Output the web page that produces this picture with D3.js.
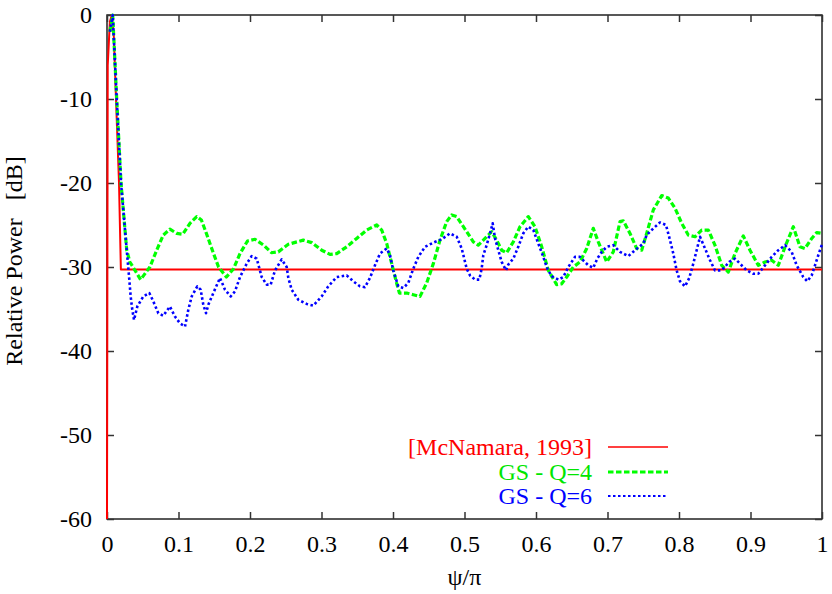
<!DOCTYPE html>
<html>
<head>
<meta charset="utf-8">
<script src="https://cdn.jsdelivr.net/npm/d3@7"></script>
<style>
  body { margin: 0; background: #fff; }
  text { font-family: "Liberation Serif", "DejaVu Serif", serif; }
</style>
</head>
<body>
<svg id="chart" width="832" height="594"></svg>
<script>
// McNamara reference pattern
var mcnX = [0, 0.001, 0.004, 0.0068, 0.0095, 0.0126, 0.0168, 0.0194, 1];
var mcnY = [-60, -6, -0.8, 0, -2.5, -10, -20, -30.3, -30.3];

// GS, Q=4
var q4X = [0.004, 0.008, 0.0136, 0.0196, 0.0276, 0.032, 0.047, 0.060, 0.0695, 0.0787, 0.088, 0.0975, 0.106, 0.116, 0.1255, 0.132, 0.139, 0.149, 0.156, 0.167, 0.177, 0.186, 0.1965, 0.207, 0.219, 0.230, 0.2396, 0.2536, 0.2745, 0.2863, 0.3003, 0.3119, 0.3213, 0.3352, 0.3492, 0.3632, 0.3772, 0.3842, 0.3912, 0.3982, 0.405, 0.409, 0.4192, 0.4284, 0.4378, 0.4471, 0.4564, 0.4657, 0.4751, 0.4821, 0.4891, 0.4937, 0.5031, 0.5123, 0.5193, 0.5287, 0.538, 0.545, 0.552, 0.559, 0.5683, 0.5776, 0.5892, 0.5986, 0.608, 0.6172, 0.6289, 0.6359, 0.6429, 0.6522, 0.6615, 0.6709, 0.6801, 0.6871, 0.6989, 0.7081, 0.7175, 0.7221, 0.7315, 0.7408, 0.7478, 0.7548, 0.7641, 0.7758, 0.7851, 0.7944, 0.8038, 0.813, 0.8224, 0.8317, 0.841, 0.8503, 0.8597, 0.869, 0.8783, 0.8899, 0.8993, 0.9109, 0.9203, 0.9297, 0.9389, 0.9483, 0.9599, 0.9692, 0.9762, 0.9856, 0.9926, 1];
var q4Y = [-2, 0, -10, -20, -28, -29.4, -31.5, -30.0, -28.0, -26.2, -25.5, -26.0, -26.1, -24.8, -24.0, -24.4, -26.0, -28.4, -30.0, -31.2, -30.2, -28.4, -26.9, -26.7, -27.4, -28.3, -28.2, -27.3, -26.8, -27.1, -28.0, -28.5, -28.4, -27.6, -26.6, -25.6, -25.0, -25.6, -27.2, -29.6, -31.9, -33.1, -33.1, -33.3, -33.5, -31.9, -29.6, -26.8, -24.6, -23.8, -24.0, -24.6, -25.8, -27.0, -27.4, -26.6, -25.8, -26.8, -28.0, -28.3, -27.0, -25.2, -24.0, -25.2, -27.6, -30.4, -32.1, -32.0, -31.2, -30.0, -29.4, -27.8, -25.4, -27.0, -29.4, -28.2, -24.6, -24.5, -26.0, -27.8, -28.0, -26.0, -23.2, -21.5, -21.8, -23.0, -24.8, -26.2, -26.4, -25.6, -25.6, -27.4, -29.8, -30.6, -28.4, -26.3, -28.0, -29.8, -29.4, -29.2, -29.8, -27.6, -25.2, -27.6, -27.8, -26.6, -25.9, -26.0];

// GS, Q=6
var q6X = [0.004, 0.008, 0.0136, 0.0196, 0.0276, 0.0312, 0.0331, 0.0354, 0.0378, 0.0424, 0.0508, 0.0592, 0.0648, 0.0718, 0.0787, 0.088, 0.0951, 0.1021, 0.1091, 0.1137, 0.1185, 0.1263, 0.131, 0.1347, 0.1385, 0.1417, 0.1487, 0.158, 0.165, 0.173, 0.179, 0.186, 0.1954, 0.2024, 0.2094, 0.2164, 0.2234, 0.2289, 0.235, 0.2443, 0.2513, 0.2536, 0.2583, 0.2676, 0.2793, 0.2885, 0.3003, 0.3095, 0.3213, 0.3352, 0.3445, 0.3538, 0.3608, 0.3678, 0.3748, 0.3818, 0.3912, 0.3958, 0.4004, 0.4074, 0.4144, 0.4214, 0.4284, 0.4354, 0.4448, 0.4564, 0.4681, 0.4797, 0.4891, 0.4961, 0.5031, 0.5077, 0.5147, 0.5207, 0.524, 0.5263, 0.531, 0.5357, 0.5394, 0.5427, 0.5473, 0.552, 0.558, 0.5613, 0.5683, 0.5752, 0.5822, 0.5892, 0.5962, 0.6032, 0.6102, 0.6158, 0.622, 0.6312, 0.6382, 0.6452, 0.6545, 0.6615, 0.6671, 0.6731, 0.6801, 0.6857, 0.6919, 0.6989, 0.7081, 0.7175, 0.7291, 0.7385, 0.7501, 0.7548, 0.7641, 0.7734, 0.7818, 0.7874, 0.792, 0.7967, 0.8014, 0.8084, 0.8144, 0.82, 0.8247, 0.8294, 0.8364, 0.8434, 0.8503, 0.8597, 0.8703, 0.8783, 0.8853, 0.8946, 0.9039, 0.9109, 0.9203, 0.9297, 0.9389, 0.9483, 0.9576, 0.9646, 0.9739, 0.9795, 0.9856, 0.9902, 0.9948, 1];
var q6Y = [-2, 0, -10, -20, -28, -31.5, -33.5, -35.1, -36.3, -34.7, -33.5, -33.1, -34.1, -35.5, -35.8, -34.7, -35.9, -36.7, -37.1, -35.1, -33.5, -32.3, -32.7, -34.5, -35.5, -34.5, -33.1, -31.3, -32.7, -33.5, -32.9, -31.2, -29.6, -28.7, -29.0, -31.2, -32.1, -32.1, -30.4, -29.1, -30.0, -31.3, -32.7, -33.9, -34.4, -34.6, -33.5, -32.3, -31.2, -31.0, -31.7, -32.3, -32.4, -31.3, -29.8, -28.4, -27.8, -28.6, -30.4, -32.3, -32.5, -31.9, -30.2, -28.8, -27.6, -27.1, -26.7, -26.0, -26.4, -27.8, -30.2, -31.0, -31.5, -31.5, -30.2, -28.6, -27.4, -26.0, -24.8, -26.6, -28.0, -29.4, -30.4, -29.7, -29.0, -27.6, -26.0, -25.2, -25.6, -27.2, -28.8, -30.2, -31.1, -31.5, -31.2, -30.0, -28.8, -28.8, -29.3, -29.8, -30.1, -29.0, -28.2, -27.6, -27.4, -28.2, -28.7, -28.0, -27.2, -26.2, -25.4, -24.7, -25.0, -26.8, -28.4, -30.4, -31.7, -32.3, -31.3, -29.6, -28.0, -26.4, -27.8, -29.2, -30.4, -30.4, -29.4, -29.0, -29.6, -30.4, -30.8, -30.8, -29.8, -28.8, -28.0, -27.4, -28.2, -29.8, -31.2, -31.7, -31.0, -29.8, -28.6, -27.3];

var xTicks = [0, 0.1, 0.2, 0.3, 0.4, 0.5, 0.6, 0.7, 0.8, 0.9, 1];
var yTicks = [0, -10, -20, -30, -40, -50, -60];

var seriesNames = ["[McNamara, 1993]", "GS - Q=4", "GS - Q=6"];
var seriesColors = ["#ff0000", "#00e600", "#0000ff"];
var lineColors = ["#ff0000", "#00ff00", "#0000ff"];
var dashes = [null, "5.5,2.5", "2.5,2.5"];
var widths = [2, 3.2, 2.6];

var margin = {left: 107, right: 10, top: 15, bottom: 75};
var width = 832 - margin.left - margin.right;
var height = 594 - margin.top - margin.bottom;

var svg = d3.select("#chart");
var g = svg.append("g")
    .attr("transform", "translate(" + margin.left + "," + margin.top + ")");

var x = d3.scaleLinear().domain([0, 1]).range([0, width]);
var y = d3.scaleLinear().domain([-60, 0]).range([height, 0]);

// frame
g.append("rect")
    .attr("width", width).attr("height", height)
    .attr("fill", "none").attr("stroke", "#222").attr("stroke-width", 1.5);

// plain hyphen, not the unicode minus d3 uses by default
var fmt = function(d){ return String(d); };

// ticks, mirrored on all four sides, pointing inward
var tickLen = 7;
function axisGroup(axis, tr) {
  var ag = g.append("g").attr("transform", tr).call(axis);
  ag.select(".domain").remove();
  ag.selectAll(".tick line").attr("stroke", "#333").attr("stroke-width", 1.5);
  ag.selectAll("text").attr("font-size", "24px").attr("fill", "#000");
  return ag;
}
axisGroup(d3.axisBottom(x).tickValues(xTicks).tickSize(-tickLen).tickPadding(16).tickFormat(fmt),
    "translate(0," + height + ")");
axisGroup(d3.axisTop(x).tickValues(xTicks).tickSize(-tickLen).tickFormat(""), "translate(0,0)");
axisGroup(d3.axisLeft(y).tickValues(yTicks).tickSize(-tickLen).tickPadding(15).tickFormat(fmt), "translate(0,0)");
axisGroup(d3.axisRight(y).tickValues(yTicks).tickSize(-tickLen).tickFormat(""), "translate(" + width + ",0)");

// curves
var line = d3.line()
    .x(function(d){ return x(d[0]); })
    .y(function(d){ return y(d[1]); });

var allX = [mcnX, q4X, q6X];
var allY = [mcnY, q4Y, q6Y];
allX.forEach(function(xs, i) {
  var pts = xs.map(function(v, j){ return [v, allY[i][j]]; });
  g.append("path")
      .datum(pts)
      .attr("d", line)
      .attr("fill", "none")
      .attr("stroke", lineColors[i])
      .attr("stroke-width", widths[i])
      .attr("stroke-dasharray", dashes[i])
      .attr("stroke-linejoin", "round");
});

// legend
var legRows = [447, 472, 496];
seriesNames.forEach(function(name, i) {
  var ly = legRows[i] - margin.top;
  g.append("text")
      .attr("x", 592 - margin.left).attr("y", ly).attr("dy", "0.35em")
      .attr("text-anchor", "end")
      .attr("font-size", "24px")
      .attr("fill", seriesColors[i])
      .text(name);
  g.append("line")
      .attr("x1", 608 - margin.left).attr("x2", 668 - margin.left)
      .attr("y1", ly).attr("y2", ly)
      .attr("stroke", lineColors[i])
      .attr("stroke-width", widths[i] - 0.4)
      .attr("stroke-dasharray", dashes[i]);
});

// axis labels
g.append("text")
    .attr("x", width / 2).attr("y", height + 66)
    .attr("text-anchor", "middle")
    .attr("font-size", "24px")
    .text("ψ/π");

g.append("text")
    .attr("transform", "rotate(-90)")
    .attr("x", -height / 2 + 6).attr("y", -85)
    .attr("text-anchor", "middle")
    .attr("font-size", "24px")
    .attr("xml:space", "preserve")
    .style("white-space", "pre")
    .text("Relative Power   [dB]");
</script>
</body>
</html>
